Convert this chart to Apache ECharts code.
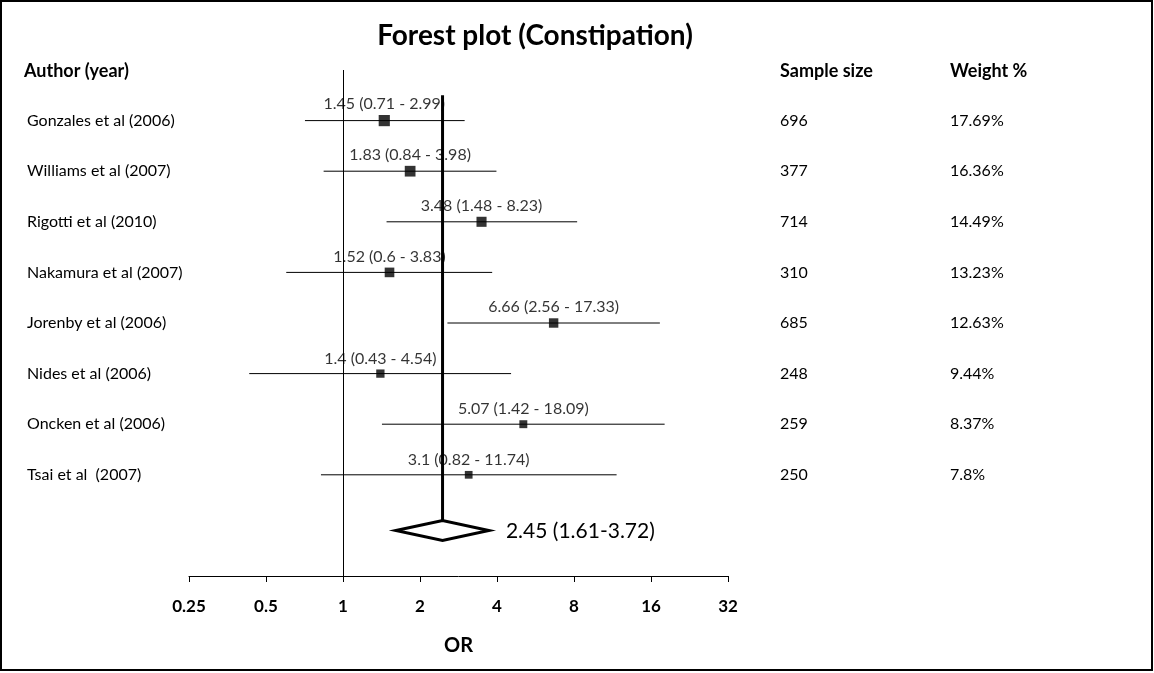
<!DOCTYPE html>
<html>
<head>
<meta charset="utf-8">
<script src="https://cdn.jsdelivr.net/npm/echarts@6/dist/echarts.min.js"></script>
<style>
  html, body { margin: 0; padding: 0; background: #fff; }
  #chart { width: 1154px; height: 673px; }
</style>
</head>
<body>
<div id="chart"></div>
<script>
const authors = [
  'Gonzales et al (2006)', 'Williams et al (2007)', 'Rigotti et al (2010)', 'Nakamura et al (2007)',
  'Jorenby et al (2006)', 'Nides et al (2006)', 'Oncken et al (2006)', 'Tsai et al  (2007)'
];
const orValues = [1.45, 1.83, 3.48, 1.52, 6.66, 1.4, 5.07, 3.1];
const ciLow = [0.71, 0.84, 1.48, 0.6, 2.56, 0.43, 1.42, 0.82];
const ciHigh = [2.99, 3.98, 8.23, 3.83, 17.33, 4.54, 18.09, 11.74];
const sampleSizes = [696, 377, 714, 310, 685, 248, 259, 250];
const weights = [17.69, 16.36, 14.49, 13.23, 12.63, 9.44, 8.37, 7.8];
const pooled = [2.45, 1.61, 3.72];
const xTicks = [0.25, 0.5, 1, 2, 4, 8, 16, 32];

const FONT = 'Lato';
const pooledRow = 9.1;

// row 0 = header, rows 1..8 = studies, row 9 = pooled, row 10 = axis
function columnRows (header, items) {
  return [header].concat(items, ['', '']);
}

function textColumn (position, margin, indent, header, items) {
  return {
    type: 'category',
    position: position,
    inverse: true,
    boundaryGap: false,
    data: columnRows(header, items),
    axisLine: { show: false },
    axisTick: { show: false },
    splitLine: { show: false },
    axisLabel: {
      interval: 0,
      align: 'left',
      margin: margin,
      formatter: function (v, i) { return i === 0 ? '{h|' + v + '}' : '{n|' + v + '}'; },
      rich: {
        h: { fontFamily: FONT, fontSize: 18, fontWeight: 'bold', color: '#000', padding: [3, 0, 0, 0] },
        n: { fontFamily: FONT, fontSize: 16, color: '#000', padding: [0, 0, 0, indent] }
      }
    }
  };
}

const chart = echarts.init(document.getElementById('chart'));

chart.setOption({
  backgroundColor: '#fff',
  animation: false,
  title: {
    text: 'Forest plot (Constipation)',
    left: 530,
    textAlign: 'center',
    top: 17,
    textStyle: { fontFamily: FONT, fontSize: 28, fontWeight: 'bold', color: '#000' }
  },
  graphic: [{
    type: 'rect',
    shape: { x: 1, y: 1, width: 1151, height: 669 },
    style: { fill: 'none', stroke: '#000', lineWidth: 2 },
    silent: true
  }],
  grid: { left: 189, right: 426, top: 70, bottom: 97 },
  xAxis: {
    type: 'log',
    logBase: 2,
    position: 'bottom',
    min: xTicks[0],
    max: xTicks[xTicks.length - 1],
    splitNumber: xTicks.length - 1,
    name: 'OR',
    nameLocation: 'middle',
    nameGap: 60,
    nameTextStyle: { fontFamily: FONT, fontSize: 20, fontWeight: 'bold', color: '#000' },
    axisLine: { onZero: false, lineStyle: { color: '#000', width: 1 } },
    axisTick: { show: true, length: 6, lineStyle: { color: '#000' } },
    splitLine: { show: false },
    axisLabel: {
      margin: 22,
      fontFamily: FONT,
      fontSize: 17,
      fontWeight: 'bold',
      color: '#000',
      formatter: function (v) { return String(+v.toFixed(2)); }
    }
  },
  yAxis: [
    { type: 'value', show: false, min: 0, max: 10, inverse: true },
    textColumn('left', 165, 3, 'Author (year)', authors),
    textColumn('right', 52, 0, 'Sample size', sampleSizes.map(String)),
    textColumn('right', 222, 0, 'Weight %', weights.map(function (w) { return w + '%'; }))
  ],
  series: [
    {
      type: 'custom',
      name: 'ci',
      yAxisIndex: 0,
      z: 2,
      data: orValues.map(function (v, i) { return [ciLow[i], ciHigh[i], i + 1]; }),
      encode: { x: [0, 1], y: 2 },
      renderItem: function (params, api) {
        const a = api.coord([api.value(0), api.value(2)]);
        const b = api.coord([api.value(1), api.value(2)]);
        return {
          type: 'line',
          shape: { x1: a[0], y1: a[1], x2: b[0], y2: b[1] },
          style: { stroke: '#000', lineWidth: 1 }
        };
      }
    },
    {
      type: 'custom',
      name: 'pooled',
      yAxisIndex: 0,
      z: 3,
      data: [[pooled[0], pooled[1], pooled[2], pooledRow]],
      encode: { x: [0, 1, 2], y: 3 },
      renderItem: function (params, api) {
        const c = api.coord([api.value(0), api.value(3)]);
        const l = api.coord([api.value(1), api.value(3)]);
        const r = api.coord([api.value(2), api.value(3)]);
        const top = api.coord([api.value(0), 0.5]);
        const h = 10;
        return {
          type: 'group',
          children: [
            {
              type: 'line',
              shape: { x1: c[0], y1: top[1], x2: c[0], y2: c[1] - h },
              style: { stroke: '#000', lineWidth: 3 }
            },
            {
              type: 'polygon',
              shape: { points: [[l[0], c[1]], [c[0], c[1] - h], [r[0], c[1]], [c[0], c[1] + h]] },
              style: { fill: '#fff', stroke: '#000', lineWidth: 3 }
            },
            {
              type: 'text',
              x: r[0] + 17,
              y: c[1] + 1,
              style: {
                text: api.value(0) + ' (' + api.value(1) + '-' + api.value(2) + ')',
                fontFamily: FONT,
                fontSize: 21,
                fill: '#000',
                verticalAlign: 'middle'
              }
            }
          ]
        };
      }
    },
    {
      type: 'scatter',
      name: 'or',
      yAxisIndex: 0,
      z: 4,
      symbol: 'rect',
      data: orValues.map(function (v, i) { return [v, i + 1, weights[i], ciLow[i], ciHigh[i]]; }),
      symbolSize: function (d) { return 5 + d[2] * 0.35; },
      itemStyle: { color: '#000' },
      label: {
        show: true,
        position: 'top',
        distance: 3,
        fontFamily: FONT,
        fontSize: 16,
        color: '#000',
        formatter: function (p) { return p.value[0] + ' (' + p.value[3] + ' - ' + p.value[4] + ')'; }
      },
      markLine: {
        silent: true,
        symbol: 'none',
        label: { show: false },
        lineStyle: { color: '#000', width: 1, type: 'solid' },
        data: [{ xAxis: 1 }]
      }
    }
  ]
});
</script>
</body>
</html>
